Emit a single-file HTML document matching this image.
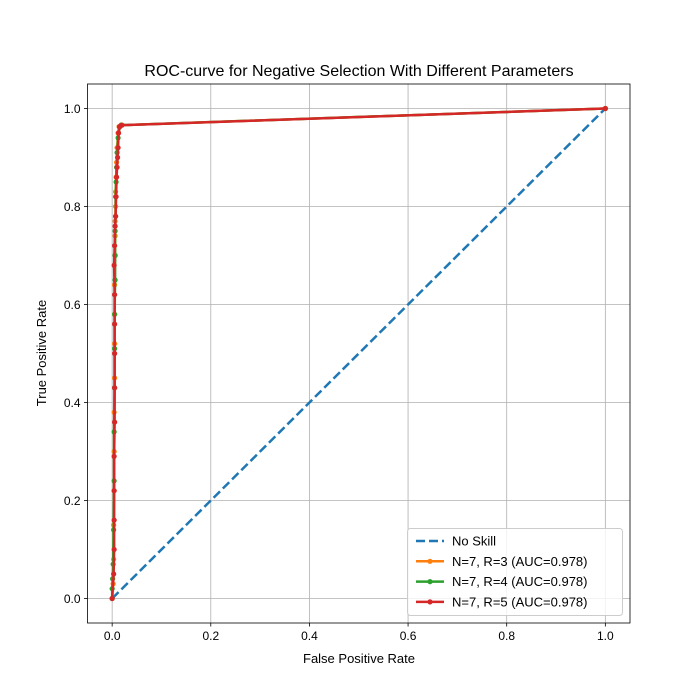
<!DOCTYPE html>
<html><head><meta charset="utf-8"><style>
html,body{margin:0;padding:0;background:#fff;}
svg{display:block;font-family:"Liberation Sans","DejaVu Sans",sans-serif;}
</style></head><body>
<svg id="chart" width="700" height="700" viewBox="0 0 700 700"></svg>
<script>
const xTicks=[0,0.2,0.4,0.6,0.8,1.0];
const yTicks=[0,0.2,0.4,0.6,0.8,1.0];
const tickLabels=["0.0","0.2","0.4","0.6","0.8","1.0"];
const noSkillX=[0,1];
const noSkillY=[0,1];
const fprR3=[0,0.002,0.003,0.003,0.004,0.004,0.004,0.005,0.005,0.005,0.005,0.006,0.006,0.006,0.007,0.007,0.008,0.009,0.010,0.012,0.014,0.018,1];
const tprR3=[0,0.03,0.08,0.15,0.22,0.30,0.38,0.45,0.52,0.58,0.64,0.70,0.74,0.77,0.80,0.83,0.86,0.89,0.92,0.95,0.963,0.966,1];
const fprR4=[0,0,0.001,0.002,0.003,0.004,0.004,0.005,0.005,0.005,0.006,0.006,0.006,0.007,0.007,0.008,0.009,0.010,0.012,0.015,0.018,1];
const tprR4=[0,0.02,0.04,0.07,0.14,0.24,0.34,0.43,0.51,0.58,0.65,0.70,0.75,0.78,0.82,0.85,0.88,0.91,0.94,0.962,0.966,1];
const fprR5=[0,0.003,0.004,0.004,0.004,0.004,0.005,0.005,0.005,0.005,0.005,0.004,0.005,0.006,0.007,0.008,0.009,0.010,0.011,0.012,0.013,0.015,0.020,1];
const tprR5=[0,0.05,0.10,0.16,0.22,0.29,0.36,0.43,0.50,0.56,0.62,0.68,0.72,0.76,0.78,0.82,0.86,0.88,0.90,0.92,0.95,0.963,0.966,1];
const series=[
 {name:"N=7, R=3 (AUC=0.978)",x:fprR3,y:tprR3,c:"#ff7f0e",id:"r3"},
 {name:"N=7, R=4 (AUC=0.978)",x:fprR4,y:tprR4,c:"#2ca02c",id:"r4"},
 {name:"N=7, R=5 (AUC=0.978)",x:fprR5,y:tprR5,c:"#d62728",id:"r5"}
];
const L=87.5,R=630,T=84,B=623;
const sx=v=>L+(v+0.05)/1.1*(R-L);
const sy=v=>B-(v+0.05)/1.1*(B-T);
const svg=document.getElementById('chart');
const NS="http://www.w3.org/2000/svg";
function mk(tag,attrs,parent){const e=document.createElementNS(NS,tag);for(const k in attrs)e.setAttribute(k,attrs[k]);(parent||svg).appendChild(e);return e;}
let t=mk('text',{x:359,y:76,'text-anchor':'middle','font-size':16,fill:'#000'});t.textContent="ROC-curve for Negative Selection With Different Parameters";


// grid & ticks
xTicks.forEach((v,i)=>{
 const g=mk('line',{x1:sx(v),x2:sx(v),y1:T,y2:B,stroke:'#b0b0b0','stroke-width':0.8});
 
 
 mk('line',{x1:sx(v),x2:sx(v),y1:B,y2:B+3.5,stroke:'#000','stroke-width':0.8});
 const l=mk('text',{x:sx(v),y:B+17,'text-anchor':'middle','font-size':12});l.textContent=tickLabels[i];
 
 
});
yTicks.forEach((v,i)=>{
 const g=mk('line',{x1:L,x2:R,y1:sy(v),y2:sy(v),stroke:'#b0b0b0','stroke-width':0.8});
 
 
 mk('line',{x1:L-3.5,x2:L,y1:sy(v),y2:sy(v),stroke:'#000','stroke-width':0.8});
 const l=mk('text',{x:L-7,y:sy(v)+4.5,'text-anchor':'end','font-size':12});l.textContent=tickLabels[i];
 
 
});
// no skill
const ns=mk('polyline',{points:noSkillX.map((x,i)=>sx(x)+','+sy(noSkillY[i])).join(' '),fill:'none',stroke:'#1f77b4','stroke-width':2.5,'stroke-dasharray':'9,4'});


series.forEach(s=>{
 const g=mk('g',{});
 
 
 mk('polyline',{points:s.x.map((x,i)=>sx(x)+','+sy(s.y[i])).join(' '),fill:'none',stroke:s.c,'stroke-width':2.5,'stroke-linejoin':'round'},g);
 s.x.forEach((x,i)=>{const c=mk('circle',{cx:sx(x),cy:sy(s.y[i]),r:2.6,fill:s.c},g);
  
  });
});
const fr=mk('rect',{x:L,y:T,width:R-L,height:B-T,fill:'none',stroke:'#000','stroke-width':0.8});


let xl=mk('text',{x:359,y:663,'text-anchor':'middle','font-size':13});xl.textContent="False Positive Rate";


let yl=mk('text',{x:46,y:353,'text-anchor':'middle','font-size':13,transform:'rotate(-90 46 353)'});yl.textContent="True Positive Rate";


// legend
const lg=mk('g',{});


mk('rect',{x:407.5,y:528.5,width:215,height:87,rx:3,fill:'#fff','fill-opacity':0.8,stroke:'#ccc'},lg);
const entries=[{n:"No Skill",c:"#1f77b4",d:true}].concat(series.map(s=>({n:s.name,c:s.c})));
entries.forEach((e,i)=>{
 const y=541+i*20.3;
 const eg=mk('g',{},lg);
 
 
 mk('line',{x1:416,x2:444,y1:y,y2:y,stroke:e.c,'stroke-width':2.5,'stroke-dasharray':e.d?'9,4':'none'},eg);
 if(!e.d)mk('circle',{cx:430,cy:y,r:2.6,fill:e.c},eg);
 const tx=mk('text',{x:452,y:y+4.5,'font-size':13},eg);tx.textContent=e.n;
});
</script>
</body></html>
